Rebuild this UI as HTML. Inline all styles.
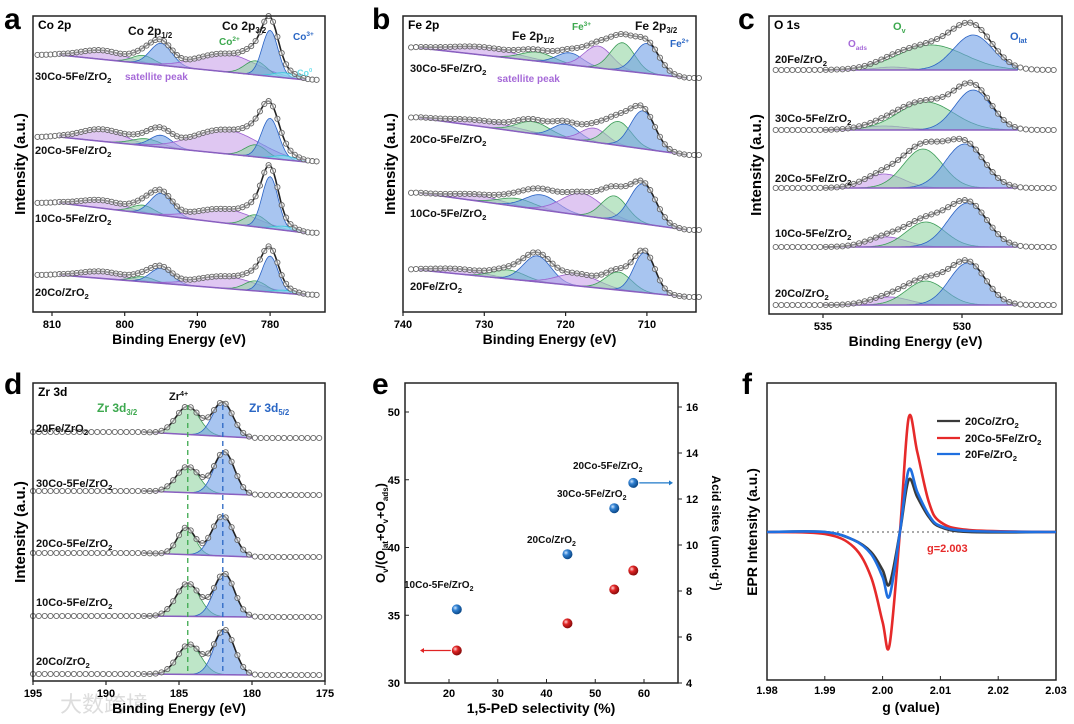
<!DOCTYPE html>
<html><head><meta charset="utf-8">
<style>
html,body{margin:0;padding:0;background:#fff;}
svg{display:block;font-family:"Liberation Sans","Noto Sans CJK SC",sans-serif;}
</style></head>
<body>
<svg id="fig" width="1074" height="724" viewBox="0 0 1074 724" xmlns="http://www.w3.org/2000/svg">
<text x="4" y="29" font-size="30" font-weight="bold">a</text>
<text x="372" y="29" font-size="30" font-weight="bold">b</text>
<text x="738" y="29" font-size="30" font-weight="bold">c</text>
<text x="4" y="394" font-size="30" font-weight="bold">d</text>
<text x="372" y="394" font-size="30" font-weight="bold">e</text>
<text x="742" y="394" font-size="30" font-weight="bold">f</text>
<text x="60" y="712" font-size="22" fill="#ddd">大数跨境</text>
</svg>
<script>
const NS="http://www.w3.org/2000/svg";
const svg=document.getElementById('fig');
function mk(tag,attrs,parent){const e=document.createElementNS(NS,tag);for(const k in attrs)e.setAttribute(k,attrs[k]);(parent||svg).appendChild(e);return e;}
const COL={p:['#c9a2ea','#9b5fcf'],g:['#92d6a4','#3c9c58'],b:['#6e9fe6','#2a62c4'],c:['#8ee8f2','#3bc7da']};

// ---------- XPS data (peak: [energy eV, amplitude, width eV, component]) ----------
const aLabels=['30Co-5Fe/ZrO','20Co-5Fe/ZrO','10Co-5Fe/ZrO','20Co/ZrO'];
const aBase=[[55,80],[137,162],[203,233],[275,295]];
const aPeaks=[
 [[803,9,3,'p'],[797.5,8,1.5,'g'],[795,22,1.5,'b'],[786,18,4,'p'],[782,14,1.5,'g'],[780,46,1.1,'b'],[778,5,1.5,'c']],
 [[803,12,3,'p'],[797,7,2,'g'],[795,12,1.5,'b'],[786,24,4.5,'p'],[782,12,1.5,'g'],[780,40,1.2,'b'],[778,4,1.5,'c']],
 [[803,8,3,'p'],[797.5,8,1.5,'g'],[795,22,1.5,'b'],[786,14,4,'p'],[782,12,1.5,'g'],[780,52,1.1,'b'],[778,4,1.5,'c']],
 [[803,7,3,'p'],[797.5,5,1.5,'g'],[795,15,1.5,'b'],[786,12,4,'p'],[782,10,1.5,'g'],[780,36,1.1,'b'],[778,3,1.5,'c']]];
const aLabelY=[80,154,222,296];

const bLabels=['30Co-5Fe/ZrO','20Co-5Fe/ZrO','10Co-5Fe/ZrO','20Fe/ZrO'];
const bBase=[[48,78],[118,155],[193,230],[270,297]];
const bPeaks=[
 [[730,8,4,'p'],[723.5,9,2,'g'],[719.5,12,1.6,'b'],[716,22,1.7,'p'],[713,28,1.5,'g'],[710,30,1.5,'b']],
 [[730,6,4,'p'],[724,12,2,'g'],[720,14,1.6,'b'],[716.5,14,1.6,'p'],[713.5,24,1.6,'g'],[710.5,38,1.5,'b']],
 [[731,6,3,'p'],[726,8,2.2,'g'],[723,15,2,'b'],[718,22,2.5,'p'],[714,24,1.6,'g'],[710.5,40,1.6,'b']],
 [[733,5,3,'p'],[727,9,2,'g'],[723.5,26,1.7,'b'],[718.5,12,2.5,'p'],[713.5,18,1.6,'g'],[710.3,40,1.3,'b']]];
const bLabelY=[72,143,217,290];

const cLabels=['20Fe/ZrO','30Co-5Fe/ZrO','20Co-5Fe/ZrO','10Co-5Fe/ZrO','20Co/ZrO'];
const cBase=[[70,70],[130,130],[188,188],[247,247],[305,305]];
const cPeaks=[
 [[532.5,3,0.6,'p'],[531.1,25,1.2,'g'],[529.6,35,0.7,'b']],
 [[532.8,4,0.8,'p'],[531.3,28,1.0,'g'],[529.6,40,0.65,'b']],
 [[532.8,14,0.7,'p'],[531.4,39,0.7,'g'],[529.9,44,0.7,'b']],
 [[532.7,10,0.7,'p'],[531.3,25,0.7,'g'],[529.8,44,0.7,'b']],
 [[532.6,8,0.7,'p'],[531.3,24,0.7,'g'],[529.8,42,0.65,'b']]];
const cLabelY=[63,122,182,237,297];

const dLabels=['20Fe/ZrO','30Co-5Fe/ZrO','20Co-5Fe/ZrO','10Co-5Fe/ZrO','20Co/ZrO'];
const dBase=[[432,438],[491,495],[553,557],[616,617],[674,675]];
const dPeaks=[
 [[184.4,28,0.8,'g'],[182,34,0.7,'b']],
 [[184.4,26,0.8,'g'],[181.9,42,0.7,'b']],
 [[184.5,27,0.6,'g'],[182,40,0.75,'b']],
 [[184.4,33,0.8,'g'],[181.9,43,0.7,'b']],
 [[184.3,30,0.8,'g'],[181.9,45,0.7,'b']]];
const dLabelY=[432,487,547,606,665];

function gauss(E,p){const z=(E-p[0])/p[2];return p[1]*Math.exp(-z*z/2);}
function label(x,y,txt,name,size,color){
 const t=mk('text',{x:x,y:y,'font-size':size||11,'font-weight':'bold',fill:color||'#111'});
 
 
 t.textContent=txt;
 const s=mk('tspan',{'font-size':(size||11)*0.7,dy:3},t);s.textContent='2';
 return t;
}
function xpsPanel(cfg){
 const X=E=>cfg.x0+(cfg.E0-E)*cfg.k;
 const g=mk('g',{});
 
 
 cfg.base.forEach((bb,i)=>{
  const [Ea,Eb]=cfg.fit;
  const base=E=>{const t=Math.min(1,Math.max(0,(Ea-E)/(Ea-Eb)));return bb[0]+(bb[1]-bb[0])*t;};
  const peaks=cfg.peaks[i];
  const env=E=>base(E)-peaks.reduce((s,p)=>s+gauss(E,p),0);
  peaks.forEach((p,j)=>{
   let d='',back='';
   for(let E=Ea;E>=Eb-0.001;E-=(Ea-Eb)/150){d+=(d?'L':'M')+X(E).toFixed(1)+','+(base(E)-gauss(E,p)).toFixed(1);}
   for(let E=Eb;E<=Ea+0.001;E+=(Ea-Eb)/150){back+='L'+X(E).toFixed(1)+','+base(E).toFixed(1);}
   const path=mk('path',{d:d+back+'Z',fill:COL[p[3]][0],'fill-opacity':0.6,stroke:COL[p[3]][1],'stroke-width':0.8},g);
   
   
  });
  const bl=mk('line',{x1:X(Ea),y1:bb[0],x2:X(Eb),y2:bb[1],stroke:'#8a5fc0','stroke-width':1.5},g);
  
  
  let d='';
  for(let E=Ea;E>=Eb;E-=(Ea-Eb)/200)d+=(d?'L':'M')+X(E).toFixed(1)+','+env(E).toFixed(1);
  const ln=mk('path',{d:d,fill:'none',stroke:'#222','stroke-width':1.6},g);
  
  
  for(let E=cfg.data[0];E>=cfg.data[1];E-=cfg.step){
   const c=mk('circle',{cx:X(E).toFixed(1),cy:env(E).toFixed(1),r:2.6,fill:'#fff','fill-opacity':0.5,stroke:'#666','stroke-width':0.9},g);
   
   
  }
  label(cfg.lx,cfg.labelY[i],cfg.labels[i],cfg.name+'-sample-label-'+i);
 });
 const box=mk('rect',{x:cfg.box[0],y:cfg.box[1],width:cfg.box[2]-cfg.box[0],height:cfg.box[3]-cfg.box[1],fill:'none',stroke:'#222','stroke-width':1.5});
 
 
 cfg.ticks.forEach(t=>{
  const tk=mk('line',{x1:X(t),x2:X(t),y1:cfg.box[3],y2:cfg.box[3]+4,stroke:'#222','stroke-width':1.2});
  
  
  const tl=mk('text',{x:X(t),y:cfg.box[3]+16,'font-size':11,'font-weight':'bold','text-anchor':'middle'});
  
  
  tl.textContent=t;
 });
 const xt=mk('text',{x:(cfg.box[0]+cfg.box[2])/2,y:cfg.box[3]+32,'font-size':14,'font-weight':'bold','text-anchor':'middle'});
 
 
 xt.textContent='Binding Energy (eV)';
 const cy=(cfg.box[1]+cfg.box[3])/2;
 const yt=mk('text',{x:cfg.box[0]-8,y:cy,'font-size':15,'font-weight':'bold','text-anchor':'middle',transform:'rotate(-90 '+(cfg.box[0]-8)+' '+cy+')'});
 
 
 yt.textContent='Intensity (a.u.)';
 const ti=mk('text',{x:cfg.box[0]+5,y:cfg.box[1]+13,'font-size':12,'font-weight':'bold'});
 
 
 ti.textContent=cfg.title;
 return X;
}
const Xa=xpsPanel({name:'panel-a',x0:52,E0:810,k:7.27,box:[33,16,325,312],fit:[809,775],data:[812,773],step:0.6,base:aBase,peaks:aPeaks,labels:aLabels,labelY:aLabelY,lx:35,ticks:[810,800,790,780],title:'Co 2p'});
const Xb=xpsPanel({name:'panel-b',x0:403,E0:740,k:8.13,box:[403,16,696,312],fit:[738,705],data:[739,703],step:0.6,base:bBase,peaks:bPeaks,labels:bLabels,labelY:bLabelY,lx:410,ticks:[740,730,720,710],title:'Fe 2p'});
const Xc=xpsPanel({name:'panel-c',x0:823,E0:535,k:27.8,box:[769,16,1062,314],fit:[535,528],data:[536.7,526.6],step:0.2,base:cBase,peaks:cPeaks,labels:cLabels,labelY:cLabelY,lx:775,ticks:[535,530],title:'O 1s'});
const Xd=xpsPanel({name:'panel-d',x0:33,E0:195,k:14.6,box:[33,383,325,681],fit:[187.5,180],data:[195,175],step:0.4,base:dBase,peaks:dPeaks,labels:dLabels,labelY:dLabelY,lx:36,ticks:[195,190,185,180,175],title:'Zr 3d'});

// annotations
function ann(x,y,txt,color,name,size,sub){const t=mk('text',{x:x,y:y,'font-size':size||11,'font-weight':'bold',fill:color});t.textContent=txt;if(sub){const s=mk('tspan',{'font-size':(size||11)*0.65,dy:sub[1]},t);s.textContent=sub[0];}return t;}
ann(128,35,'Co 2p','#111','co2p12-label',12,['1/2',3]);
ann(222,30,'Co 2p','#111','co2p32-label',12,['3/2',3]);
ann(219,45,'Co','#3ca84e','co2-label',10,['2+',-4]);
ann(293,40,'Co','#2a66c4','co3-label',10,['3+',-4]);
ann(297,76,'Co','#6fe0ee','co0-label',9,['0',-4]);
ann(125,80,'satellite peak','#a66ad8','satellite-label-a',10);
ann(512,40,'Fe 2p','#111','fe2p12-label',12,['1/2',3]);
ann(635,30,'Fe 2p','#111','fe2p32-label',12,['3/2',3]);
ann(572,30,'Fe','#3ca84e','fe3-label',10,['3+',-4]);
ann(670,47,'Fe','#2a66c4','fe2-label',10,['2+',-4]);
ann(497,82,'satellite peak','#a66ad8','satellite-label-b',10);
ann(848,47,'O','#a66ad8','oads-label',10,['ads',3]);
ann(893,30,'O','#3ca84e','ov-label',11,['v',3]);
ann(1010,40,'O','#2a66c4','olat-label',11,['lat',3]);
ann(97,412,'Zr 3d','#3ca84e','zr3d32-label',12,['3/2',3]);
ann(169,400,'Zr','#111','zr4-label',11,['4+',-4]);
ann(249,412,'Zr 3d','#2a66c4','zr3d52-label',12,['5/2',3]);
[[184.4,'#3ca84e'],[182,'#2a66c4']].forEach((v,i)=>{const l=mk('line',{x1:Xd(v[0]),x2:Xd(v[0]),y1:405,y2:672,stroke:v[1],'stroke-width':1.3,'stroke-dasharray':'5,4'});});

// ---------- Panel e ----------
const eSel=[21.6,44.3,53.9,57.8];
const eOv=[32.4,34.4,36.9,38.3];
const eAcid=[7.2,9.6,11.6,12.7];
const eNames=['10Co-5Fe/ZrO','20Co/ZrO','30Co-5Fe/ZrO','20Co-5Fe/ZrO'];
const eXt=[20,30,40,50,60],eYL=[30,35,40,45,50],eYR=[4,6,8,10,12,14,16];
const EX=v=>449+(v-20)*4.875, EYL=v=>683-(v-30)*13.55, EYR=v=>683-(v-4)*23;
(function(){
 const r=mk('rect',{x:405,y:383,width:273,height:300,fill:'none',stroke:'#222','stroke-width':1.5});
 
 eXt.forEach(t=>{const l=mk('line',{x1:EX(t),x2:EX(t),y1:683,y2:679,stroke:'#222'});
  const tx=mk('text',{x:EX(t),y:697,'font-size':11,'font-weight':'bold','text-anchor':'middle'});tx.textContent=t;});
 eYL.forEach(t=>{const l=mk('line',{x1:405,x2:409,y1:EYL(t),y2:EYL(t),stroke:'#222'});
  const tx=mk('text',{x:400,y:EYL(t)+4,'font-size':11,'font-weight':'bold','text-anchor':'end'});tx.textContent=t;});
 eYR.forEach(t=>{const l=mk('line',{x1:678,x2:682,y1:EYR(t),y2:EYR(t),stroke:'#222'});
  const tx=mk('text',{x:686,y:EYR(t)+4,'font-size':11,'font-weight':'bold'});tx.textContent=t;});
 const defs=mk('defs',{});
 defs.innerHTML='<radialGradient id="gb" cx="35%" cy="35%" r="65%"><stop offset="0" stop-color="#cfe6ff"/><stop offset="0.4" stop-color="#2f7fd0"/><stop offset="1" stop-color="#0d4a8a"/></radialGradient><radialGradient id="gr" cx="35%" cy="35%" r="65%"><stop offset="0" stop-color="#ffd6d6"/><stop offset="0.4" stop-color="#e02424"/><stop offset="1" stop-color="#8a0c0c"/></radialGradient>';
 eSel.forEach((s,i)=>{
  const b=mk('circle',{cx:EX(s),cy:EYR(eAcid[i]),r:5,fill:'url(#gb)'});
  const rr=mk('circle',{cx:EX(s),cy:EYL(eOv[i]),r:5,fill:'url(#gr)'});
 });
 const lp=[[404,588],[527,543],[557,497],[573,469]];
 eNames.forEach((n,i)=>label(lp[i][0],lp[i][1],n,'point-label-'+i,10));
 const a1=mk('path',{d:'M'+(EX(eSel[3])+6)+','+EYR(eAcid[3])+' H669',stroke:'#1f78c8','stroke-width':1.3,fill:'none'});
 mk('path',{d:'M669,'+(EYR(eAcid[3])-2.5)+' L673,'+EYR(eAcid[3])+' L669,'+(EYR(eAcid[3])+2.5)+'Z',fill:'#1f78c8'});
 const a2=mk('path',{d:'M'+(EX(eSel[0])-6)+','+EYL(eOv[0])+' H424',stroke:'#e02424','stroke-width':1.3,fill:'none'});
 mk('path',{d:'M424,'+(EYL(eOv[0])-2.5)+' L420,'+EYL(eOv[0])+' L424,'+(EYL(eOv[0])+2.5)+'Z',fill:'#e02424'});
 const xt=mk('text',{x:541,y:713,'font-size':14,'font-weight':'bold','text-anchor':'middle'});xt.textContent='1,5-PeD selectivity (%)';
 const yl=mk('text',{x:385,y:533,'font-size':13,'font-weight':'bold','text-anchor':'middle',transform:'rotate(-90 385 533)'});
 yl.innerHTML='O<tspan font-size="8" dy="3">v</tspan><tspan dy="-3">/(O</tspan><tspan font-size="8" dy="3">lat</tspan><tspan dy="-3">+O</tspan><tspan font-size="8" dy="3">v</tspan><tspan dy="-3">+O</tspan><tspan font-size="8" dy="3">ads</tspan><tspan dy="-3">)</tspan>';
 const yr=mk('text',{x:712,y:533,'font-size':12,'font-weight':'bold','text-anchor':'middle',transform:'rotate(90 712 533)'});
 yr.innerHTML='Acid sites (umol·g<tspan font-size="8" dy="-4">-1</tspan><tspan dy="4">)</tspan>';
})();

// ---------- Panel f ----------
const fG=[1.98,1.99,1.995,1.998,2.0,2.0012,2.003,2.0045,2.006,2.008,2.01,2.015,2.03];
const fBlack=[0,0,-8,-20,-38,-52,0,52,35,15,5,0,0];
const fRed=[0,-2,-15,-45,-90,-113,0,114,80,30,10,2,0];
const fBlue=[0,0,-8,-22,-45,-64,0,62,40,17,6,1,0];
const fXt=[1.98,1.99,2.0,2.01,2.02,2.03];
const FX=g=>767+(g-1.98)*5780, FY=v=>532-v;
(function(){
 const r=mk('rect',{x:767,y:383,width:289,height:297,fill:'none',stroke:'#222','stroke-width':1.5});
 
 fXt.forEach(t=>{const l=mk('line',{x1:FX(t),x2:FX(t),y1:680,y2:676,stroke:'#222'});
  const tx=mk('text',{x:FX(t),y:694,'font-size':11,'font-weight':'bold','text-anchor':'middle'});tx.textContent=t.toFixed(2);});
 const dl=mk('line',{x1:767,x2:1056,y1:FY(0),y2:FY(0),stroke:'#777','stroke-dasharray':'2,3','stroke-width':1.2});
 function smooth(vals){
  const P=fG.map((g,i)=>[FX(g),FY(vals[i])]);let d='M'+P[0][0]+','+P[0][1];
  for(let i=0;i<P.length-1;i++){const p0=P[i-1]||P[i],p1=P[i],p2=P[i+1],p3=P[i+2]||P[i+1];
   d+=' C'+(p1[0]+(p2[0]-p0[0])/6)+','+(p1[1]+(p2[1]-p0[1])/6)+' '+(p2[0]-(p3[0]-p1[0])/6)+','+(p2[1]-(p3[1]-p1[1])/6)+' '+p2[0]+','+p2[1];}
  return d;}
 [[fBlack,'#3a3a3a','epr-20co'],[fRed,'#e62a2a','epr-20co-5fe'],[fBlue,'#1f6fe0','epr-20fe']].forEach(s=>{
  const p=mk('path',{d:smooth(s[0]),fill:'none',stroke:s[1],'stroke-width':2.6});});
 [['20Co/ZrO','#3a3a3a',425],['20Co-5Fe/ZrO','#e62a2a',442],['20Fe/ZrO','#1f6fe0',458]].forEach((s,i)=>{
  const l=mk('line',{x1:937,x2:960,y1:s[2]-4,y2:s[2]-4,stroke:s[1],'stroke-width':2.2});
  label(965,s[2],s[0],'legend-entry-'+i,11);});
 const gl=mk('text',{x:927,y:552,'font-size':11,'font-weight':'bold',fill:'#e62a2a'});gl.textContent='g=2.003';
 const xt=mk('text',{x:911,y:712,'font-size':14,'font-weight':'bold','text-anchor':'middle'});xt.textContent='g (value)';
 const yt=mk('text',{x:757,y:532,'font-size':14,'font-weight':'bold','text-anchor':'middle',transform:'rotate(-90 757 532)'});yt.textContent='EPR Intensity (a.u.)';
})();
</script>
</body></html>
